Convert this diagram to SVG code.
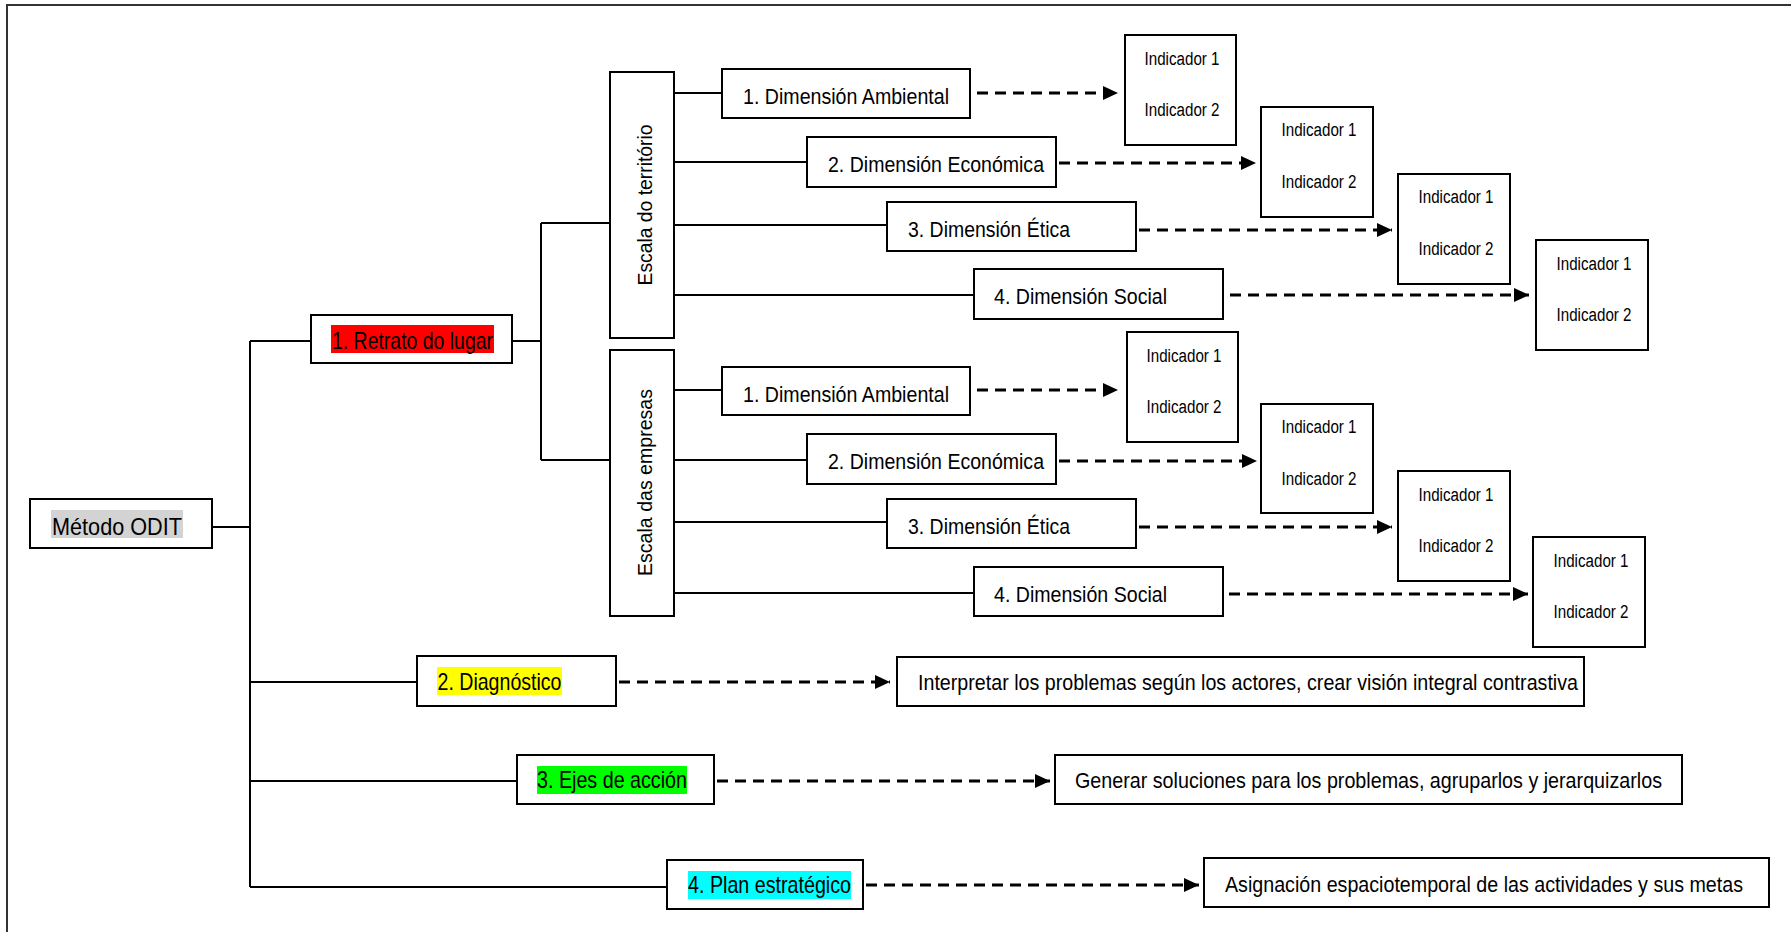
<svg xmlns="http://www.w3.org/2000/svg" width="1791" height="932" viewBox="0 0 1791 932">
<style>
.bx{fill:#fff;stroke:#000;stroke-width:2}
.ln{fill:none;stroke:#000;stroke-width:2}
.da{fill:none;stroke:#000;stroke-width:3;stroke-dasharray:11 7}
text{font-family:"Liberation Sans",Arial,sans-serif;fill:#000}
.dim{font-size:22.5px}
.ind{font-size:18px;text-anchor:middle}
.big{font-size:24px}
.desc{font-size:21.5px}
.esc{font-size:20px;text-anchor:middle}
</style>
<defs>
<marker id="ah" markerUnits="userSpaceOnUse" markerWidth="16" markerHeight="14" refX="15" refY="7" orient="auto">
<path d="M0,0 L15,7 L0,14 Z" fill="#000"/>
</marker>
</defs>
<rect width="1791" height="932" fill="#fff"/>
<path d="M7,932 V5 H1791" fill="none" stroke="#333" stroke-width="2"/>

<g id="connectors">
<path class="ln" d="M250,341 V887"/>
<path class="ln" d="M212,527 H250"/>
<path class="ln" d="M250,341 H311"/>
<path class="ln" d="M250,682 H417"/>
<path class="ln" d="M250,781 H517"/>
<path class="ln" d="M250,887 H667"/>
<path class="ln" d="M512,341 H541"/>
<path class="ln" d="M541,223 V460"/>
<path class="ln" d="M541,223 H610"/>
<path class="ln" d="M541,460 H610"/>
<path class="ln" d="M674,93 H722"/>
<path class="ln" d="M674,162 H807"/>
<path class="ln" d="M674,225 H887"/>
<path class="ln" d="M674,295 H974"/>
<path class="ln" d="M674,390 H722"/>
<path class="ln" d="M674,460 H807"/>
<path class="ln" d="M674,522 H887"/>
<path class="ln" d="M674,593 H974"/>
<path class="da" d="M977,93 H1118" marker-end="url(#ah)"/>
<path class="da" d="M1059,163 H1256" marker-end="url(#ah)"/>
<path class="da" d="M1139,230 H1392" marker-end="url(#ah)"/>
<path class="da" d="M1230,295 H1529" marker-end="url(#ah)"/>
<path class="da" d="M977,390 H1118" marker-end="url(#ah)"/>
<path class="da" d="M1059,461 H1257" marker-end="url(#ah)"/>
<path class="da" d="M1139,527 H1392" marker-end="url(#ah)"/>
<path class="da" d="M1229,594 H1528" marker-end="url(#ah)"/>
<path class="da" d="M619,682 H890" marker-end="url(#ah)"/>
<path class="da" d="M717,781 H1050" marker-end="url(#ah)"/>
<path class="da" d="M866,885 H1199" marker-end="url(#ah)"/>
</g>

<g id="metodo">
<rect class="bx" x="30" y="499" width="182" height="49"/>
<rect x="51" y="510" width="132" height="28" fill="#d3d3d3"/>
<text class="big" x="52" y="535" textLength="130" lengthAdjust="spacingAndGlyphs">Método ODIT</text>
</g>
<g id="retrato">
<rect class="bx" x="311" y="315" width="201" height="48"/>
<rect x="331" y="325" width="163" height="28" fill="#ff0000"/>
<text class="big" x="332" y="348.5" textLength="161" lengthAdjust="spacingAndGlyphs">1. Retrato do lugar</text>
</g>
<g id="diagnostico">
<rect class="bx" x="417" y="656" width="199" height="50"/>
<rect x="437" y="667" width="125" height="28" fill="#ffff00"/>
<text class="big" x="437.5" y="690" textLength="124" lengthAdjust="spacingAndGlyphs">2. Diagnóstico</text>
</g>
<g id="ejes">
<rect class="bx" x="517" y="755" width="197" height="49"/>
<rect x="537" y="766" width="150" height="28" fill="#00ff00"/>
<text class="big" x="537" y="788" textLength="150" lengthAdjust="spacingAndGlyphs">3. Ejes de acción</text>
</g>
<g id="plan">
<rect class="bx" x="667" y="860" width="196" height="49"/>
<rect x="688" y="871" width="163" height="28" fill="#00ffff"/>
<text class="big" x="688" y="893" textLength="163" lengthAdjust="spacingAndGlyphs">4. Plan estratégico</text>
</g>

<g id="escala-territorio">
<rect class="bx" x="610" y="72" width="64" height="266"/>
<text class="esc" transform="translate(652,205) rotate(-90)" textLength="161" lengthAdjust="spacingAndGlyphs">Escala do território</text>
</g>
<g id="escala-empresas">
<rect class="bx" x="610" y="350" width="64" height="266"/>
<text class="esc" transform="translate(652,482.5) rotate(-90)" textLength="187" lengthAdjust="spacingAndGlyphs">Escala das empresas</text>
</g>

<g id="t-ambiental">
<rect class="bx" x="722" y="69" width="248" height="49"/>
<text class="dim" x="743" y="103.5" textLength="206" lengthAdjust="spacingAndGlyphs">1. Dimensión Ambiental</text>
</g>
<g id="t-economica">
<rect class="bx" x="807" y="137" width="249" height="50"/>
<text class="dim" x="828" y="171.5" textLength="216" lengthAdjust="spacingAndGlyphs">2. Dimensión Económica</text>
</g>
<g id="t-etica">
<rect class="bx" x="887" y="202" width="249" height="49"/>
<text class="dim" x="908" y="236.5" textLength="162" lengthAdjust="spacingAndGlyphs">3. Dimensión Ética</text>
</g>
<g id="t-social">
<rect class="bx" x="974" y="269" width="249" height="50"/>
<text class="dim" x="994" y="303.5" textLength="173" lengthAdjust="spacingAndGlyphs">4. Dimensión Social</text>
</g>

<g id="e-ambiental">
<rect class="bx" x="722" y="367" width="248" height="48"/>
<text class="dim" x="743" y="401.5" textLength="206" lengthAdjust="spacingAndGlyphs">1. Dimensión Ambiental</text>
</g>
<g id="e-economica">
<rect class="bx" x="807" y="434" width="249" height="50"/>
<text class="dim" x="828" y="468.5" textLength="216" lengthAdjust="spacingAndGlyphs">2. Dimensión Económica</text>
</g>
<g id="e-etica">
<rect class="bx" x="887" y="499" width="249" height="49"/>
<text class="dim" x="908" y="533.5" textLength="162" lengthAdjust="spacingAndGlyphs">3. Dimensión Ética</text>
</g>
<g id="e-social">
<rect class="bx" x="974" y="567" width="249" height="49"/>
<text class="dim" x="994" y="601.5" textLength="173" lengthAdjust="spacingAndGlyphs">4. Dimensión Social</text>
</g>

<g id="t-ind1">
<rect class="bx" x="1125" y="35" width="111" height="110"/>
<text class="ind" x="1182" y="64.5" textLength="75" lengthAdjust="spacingAndGlyphs">Indicador 1</text>
<text class="ind" x="1182" y="115.5" textLength="75" lengthAdjust="spacingAndGlyphs">Indicador 2</text>
</g>
<g id="t-ind2">
<rect class="bx" x="1261" y="107" width="112" height="110"/>
<text class="ind" x="1319" y="135.5" textLength="75" lengthAdjust="spacingAndGlyphs">Indicador 1</text>
<text class="ind" x="1319" y="187.5" textLength="75" lengthAdjust="spacingAndGlyphs">Indicador 2</text>
</g>
<g id="t-ind3">
<rect class="bx" x="1398" y="174" width="112" height="110"/>
<text class="ind" x="1456" y="203" textLength="75" lengthAdjust="spacingAndGlyphs">Indicador 1</text>
<text class="ind" x="1456" y="254.5" textLength="75" lengthAdjust="spacingAndGlyphs">Indicador 2</text>
</g>
<g id="t-ind4">
<rect class="bx" x="1536" y="240" width="112" height="110"/>
<text class="ind" x="1594" y="269.5" textLength="75" lengthAdjust="spacingAndGlyphs">Indicador 1</text>
<text class="ind" x="1594" y="320.5" textLength="75" lengthAdjust="spacingAndGlyphs">Indicador 2</text>
</g>
<g id="e-ind1">
<rect class="bx" x="1127" y="332" width="111" height="110"/>
<text class="ind" x="1184" y="361.5" textLength="75" lengthAdjust="spacingAndGlyphs">Indicador 1</text>
<text class="ind" x="1184" y="412.5" textLength="75" lengthAdjust="spacingAndGlyphs">Indicador 2</text>
</g>
<g id="e-ind2">
<rect class="bx" x="1261" y="404" width="112" height="109"/>
<text class="ind" x="1319" y="432.5" textLength="75" lengthAdjust="spacingAndGlyphs">Indicador 1</text>
<text class="ind" x="1319" y="484.5" textLength="75" lengthAdjust="spacingAndGlyphs">Indicador 2</text>
</g>
<g id="e-ind3">
<rect class="bx" x="1398" y="471" width="112" height="110"/>
<text class="ind" x="1456" y="500.5" textLength="75" lengthAdjust="spacingAndGlyphs">Indicador 1</text>
<text class="ind" x="1456" y="551.5" textLength="75" lengthAdjust="spacingAndGlyphs">Indicador 2</text>
</g>
<g id="e-ind4">
<rect class="bx" x="1533" y="537" width="112" height="110"/>
<text class="ind" x="1591" y="566.5" textLength="75" lengthAdjust="spacingAndGlyphs">Indicador 1</text>
<text class="ind" x="1591" y="617.5" textLength="75" lengthAdjust="spacingAndGlyphs">Indicador 2</text>
</g>

<g id="interpretar">
<rect class="bx" x="897" y="657" width="687" height="49"/>
<text class="desc" x="918" y="690" textLength="660" lengthAdjust="spacingAndGlyphs">Interpretar los problemas según los actores, crear visión integral contrastiva</text>
</g>
<g id="generar">
<rect class="bx" x="1055" y="755" width="627" height="49"/>
<text class="desc" x="1075" y="788" textLength="587" lengthAdjust="spacingAndGlyphs">Generar soluciones para los problemas, agruparlos y jerarquizarlos</text>
</g>
<g id="asignacion">
<rect class="bx" x="1204" y="858" width="565" height="49"/>
<text class="desc" x="1225" y="891.5" textLength="518" lengthAdjust="spacingAndGlyphs">Asignación espaciotemporal de las actividades y sus metas</text>
</g>
</svg>
